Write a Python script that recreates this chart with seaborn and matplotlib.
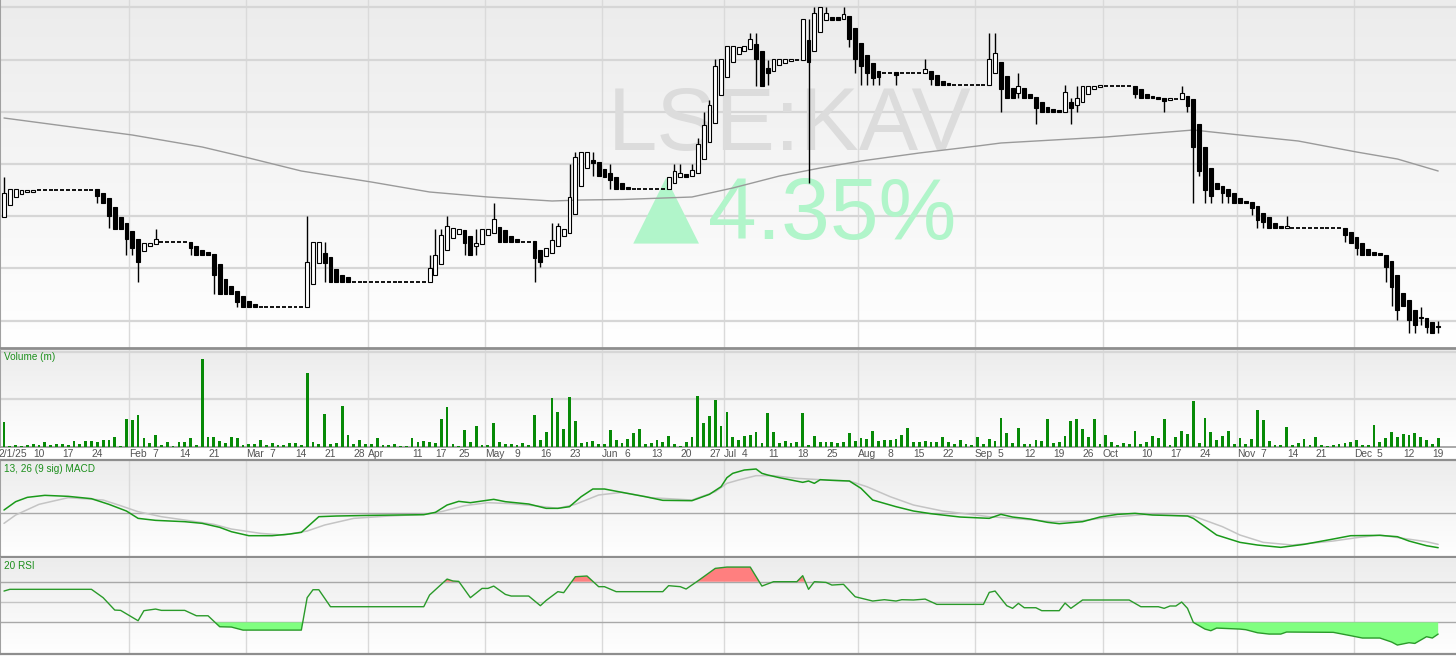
import numpy as np
import pandas as pd
import matplotlib
matplotlib.use("Agg")
import matplotlib.pyplot as plt
import matplotlib.transforms as mtransforms
from matplotlib.colors import LinearSegmentedColormap
import seaborn as sns

sns.set_style("white")
plt.rcParams["font.family"] = ["Liberation Sans", "DejaVu Sans"]

ticker = "LSE:KAV"
change_text = "4.35%"

# LSE trading days 2025 (2 Jan - 19 Dec)
uk_holidays = ["2025-04-18", "2025-04-21", "2025-05-05", "2025-05-26", "2025-08-25"]
days = pd.bdate_range("2025-01-02", "2025-12-19")
days = days[~days.isin(pd.to_datetime(uk_holidays))]

opens = [1.31, 1.43, 1.51, 1.54, 1.56, 1.56, 1.58, 1.58, 1.58, 1.58,
         1.58, 1.58, 1.58, 1.58, 1.58, 1.58, 1.59, 1.55, 1.50, 1.41,
         1.31, 1.25, 1.17, 1.09, 0.97, 1.02, 1.04, 1.06, 1.06, 1.06,
         1.06, 1.06, 1.06, 1.02, 0.98, 0.96, 0.94, 0.84, 0.69, 0.62,
         0.57, 0.52, 0.47, 0.44, 0.41, 0.41, 0.41, 0.41, 0.41, 0.41,
         0.41, 0.41, 0.41, 0.64, 0.85, 0.95, 0.91, 0.79, 0.73, 0.71,
         0.66, 0.66, 0.66, 0.66, 0.66, 0.66, 0.66, 0.66, 0.66, 0.66,
         0.66, 0.66, 0.66, 0.66, 0.73, 0.84, 0.98, 1.10, 1.14, 1.18,
         1.12, 1.02, 1.04, 1.13, 1.15, 1.21, 1.18, 1.12, 1.09, 1.06,
         1.06, 1.07, 0.98, 0.92, 0.95, 1.02, 1.12, 1.15, 1.34, 1.62,
         1.80, 1.88, 1.86, 1.79, 1.75, 1.71, 1.65, 1.61, 1.59, 1.59,
         1.59, 1.59, 1.59, 1.59, 1.59, 1.65, 1.71, 1.74, 1.72, 1.75,
         1.89, 2.06, 2.25, 2.53, 2.71, 2.86, 2.94, 2.97, 2.99, 3.04,
         2.97, 2.80, 2.77, 2.83, 2.85, 2.87, 2.88, 2.88, 3.08, 2.97,
         3.16, 3.28, 3.31, 3.31, 3.29, 3.32, 3.20, 3.05, 2.93, 2.85,
         2.77, 2.75, 2.75, 2.76, 2.75, 2.75, 2.75, 2.75, 2.75, 2.77,
         2.73, 2.67, 2.65, 2.63, 2.63, 2.63, 2.63, 2.63, 2.63, 2.63,
         2.75, 2.86, 2.72, 2.60, 2.55, 2.60, 2.54, 2.51, 2.46, 2.41,
         2.39, 2.38, 2.36, 2.46, 2.43, 2.46, 2.54, 2.59, 2.61, 2.62,
         2.62, 2.62, 2.62, 2.62, 2.62, 2.59, 2.54, 2.52, 2.51, 2.50,
         2.48, 2.49, 2.49, 2.52, 2.49, 2.24, 2.01, 1.80, 1.65, 1.62,
         1.59, 1.55, 1.50, 1.47, 1.46, 1.42, 1.35, 1.31, 1.25, 1.22,
         1.20, 1.20, 1.20, 1.20, 1.20, 1.20, 1.20, 1.20, 1.20, 1.20,
         1.20, 1.16, 1.11, 1.05, 0.99, 0.96, 0.95, 0.93, 0.87, 0.73,
         0.55, 0.48, 0.38, 0.31, 0.30, 0.26, 0.22]

highs = [1.71, 1.59, 1.59, 1.58, 1.58, 1.58, 1.58, 1.58, 1.58, 1.58,
         1.58, 1.58, 1.58, 1.58, 1.58, 1.58, 1.59, 1.55, 1.50, 1.41,
         1.31, 1.25, 1.17, 1.09, 1.05, 1.05, 1.19, 1.06, 1.06, 1.06,
         1.06, 1.06, 1.06, 1.02, 0.98, 0.96, 0.94, 0.84, 0.69, 0.62,
         0.57, 0.52, 0.47, 0.44, 0.41, 0.41, 0.41, 0.41, 0.41, 0.41,
         0.41, 0.41, 1.32, 1.06, 1.06, 1.06, 0.91, 0.79, 0.73, 0.71,
         0.66, 0.66, 0.66, 0.66, 0.66, 0.66, 0.66, 0.66, 0.66, 0.66,
         0.66, 0.66, 0.66, 0.93, 1.19, 1.19, 1.32, 1.20, 1.19, 1.18,
         1.12, 1.19, 1.19, 1.19, 1.45, 1.21, 1.18, 1.12, 1.09, 1.06,
         1.06, 1.07, 0.98, 1.00, 1.25, 1.25, 1.19, 1.84, 1.96, 1.96,
         1.96, 1.96, 1.86, 1.79, 1.84, 1.71, 1.65, 1.61, 1.59, 1.59,
         1.59, 1.59, 1.59, 1.59, 1.71, 1.84, 1.84, 1.74, 1.84, 2.10,
         2.36, 2.48, 2.89, 2.89, 3.02, 3.02, 3.01, 3.02, 3.15, 3.15,
         2.97, 2.88, 2.89, 2.89, 2.89, 2.89, 2.88, 3.29, 3.29, 3.41,
         3.41, 3.41, 3.31, 3.31, 3.41, 3.32, 3.20, 3.05, 2.93, 2.85,
         2.77, 2.75, 2.75, 2.76, 2.75, 2.75, 2.75, 2.75, 2.89, 2.77,
         2.73, 2.67, 2.65, 2.63, 2.63, 2.63, 2.63, 2.63, 2.63, 3.15,
         3.15, 2.86, 2.72, 2.60, 2.75, 2.60, 2.54, 2.51, 2.46, 2.41,
         2.39, 2.38, 2.63, 2.50, 2.62, 2.62, 2.62, 2.62, 2.63, 2.62,
         2.62, 2.62, 2.62, 2.62, 2.62, 2.59, 2.54, 2.52, 2.51, 2.50,
         2.50, 2.49, 2.62, 2.52, 2.49, 2.24, 2.01, 1.80, 1.65, 1.62,
         1.59, 1.55, 1.50, 1.47, 1.46, 1.42, 1.35, 1.31, 1.25, 1.22,
         1.32, 1.20, 1.20, 1.20, 1.20, 1.20, 1.20, 1.20, 1.20, 1.20,
         1.20, 1.16, 1.11, 1.05, 0.99, 0.96, 0.95, 0.93, 0.87, 0.73,
         0.55, 0.48, 0.38, 0.41, 0.30, 0.26, 0.27]

lows = [1.31, 1.43, 1.51, 1.54, 1.56, 1.56, 1.58, 1.58, 1.58, 1.58,
        1.58, 1.58, 1.58, 1.58, 1.58, 1.58, 1.45, 1.45, 1.20, 1.19,
        1.19, 0.93, 0.93, 0.66, 0.97, 1.02, 1.04, 1.06, 1.06, 1.06,
        1.06, 1.06, 0.93, 0.93, 0.93, 0.93, 0.54, 0.54, 0.54, 0.54,
        0.41, 0.41, 0.41, 0.41, 0.41, 0.41, 0.41, 0.41, 0.41, 0.41,
        0.41, 0.41, 0.41, 0.64, 0.85, 0.66, 0.66, 0.66, 0.66, 0.66,
        0.66, 0.66, 0.66, 0.66, 0.66, 0.66, 0.66, 0.66, 0.66, 0.66,
        0.66, 0.66, 0.66, 0.66, 0.73, 0.84, 0.98, 1.10, 1.14, 0.93,
        0.93, 0.93, 1.04, 1.13, 1.15, 1.06, 1.06, 1.06, 1.06, 1.06,
        1.06, 0.66, 0.81, 0.92, 0.95, 1.02, 1.12, 1.15, 1.34, 1.62,
        1.80, 1.72, 1.72, 1.71, 1.59, 1.59, 1.59, 1.59, 1.59, 1.59,
        1.59, 1.59, 1.59, 1.59, 1.59, 1.65, 1.71, 1.71, 1.72, 1.75,
        1.89, 2.06, 2.25, 2.53, 2.71, 2.86, 2.94, 2.97, 2.99, 2.62,
        2.62, 2.63, 2.77, 2.83, 2.85, 2.87, 2.88, 2.88, 1.65, 2.97,
        3.16, 3.28, 3.28, 3.28, 3.29, 3.01, 2.75, 2.63, 2.63, 2.63,
        2.63, 2.75, 2.75, 2.63, 2.75, 2.75, 2.75, 2.75, 2.75, 2.63,
        2.63, 2.63, 2.63, 2.63, 2.63, 2.63, 2.63, 2.63, 2.63, 2.63,
        2.75, 2.36, 2.50, 2.50, 2.50, 2.50, 2.50, 2.24, 2.36, 2.36,
        2.36, 2.36, 2.36, 2.24, 2.36, 2.46, 2.54, 2.59, 2.61, 2.62,
        2.62, 2.62, 2.62, 2.62, 2.50, 2.50, 2.50, 2.50, 2.49, 2.36,
        2.48, 2.49, 2.49, 2.36, 1.45, 1.72, 1.45, 1.45, 1.59, 1.45,
        1.45, 1.45, 1.45, 1.45, 1.33, 1.20, 1.20, 1.20, 1.20, 1.20,
        1.20, 1.20, 1.20, 1.20, 1.20, 1.20, 1.20, 1.20, 1.20, 1.20,
        1.06, 1.05, 0.93, 0.93, 0.93, 0.93, 0.93, 0.66, 0.42, 0.28,
        0.42, 0.15, 0.15, 0.23, 0.15, 0.15, 0.15]

closes = [1.55, 1.59, 1.59, 1.58, 1.58, 1.58, 1.58, 1.58, 1.58, 1.58,
          1.58, 1.58, 1.58, 1.58, 1.58, 1.58, 1.52, 1.45, 1.32, 1.19,
          1.19, 1.09, 1.00, 0.86, 1.05, 1.05, 1.09, 1.06, 1.06, 1.06,
          1.06, 1.06, 1.00, 0.93, 0.93, 0.93, 0.73, 0.54, 0.54, 0.54,
          0.46, 0.41, 0.41, 0.41, 0.41, 0.41, 0.41, 0.41, 0.41, 0.41,
          0.41, 0.41, 0.86, 1.06, 1.06, 0.85, 0.66, 0.66, 0.66, 0.66,
          0.66, 0.66, 0.66, 0.66, 0.66, 0.66, 0.66, 0.66, 0.66, 0.66,
          0.66, 0.66, 0.66, 0.80, 0.93, 1.13, 1.22, 1.20, 1.19, 1.05,
          0.93, 1.05, 1.19, 1.19, 1.29, 1.06, 1.06, 1.06, 1.06, 1.06,
          1.06, 0.90, 0.86, 1.00, 1.08, 1.22, 1.19, 1.51, 1.91, 1.96,
          1.96, 1.85, 1.72, 1.71, 1.68, 1.59, 1.59, 1.59, 1.59, 1.59,
          1.59, 1.59, 1.59, 1.59, 1.71, 1.77, 1.75, 1.71, 1.78, 2.04,
          2.23, 2.43, 2.82, 2.89, 3.02, 3.02, 3.01, 3.02, 3.09, 2.89,
          2.62, 2.75, 2.89, 2.89, 2.89, 2.89, 2.88, 3.29, 2.86, 3.35,
          3.41, 3.35, 3.28, 3.28, 3.34, 3.09, 2.89, 2.82, 2.75, 2.70,
          2.71, 2.75, 2.75, 2.73, 2.75, 2.75, 2.75, 2.75, 2.79, 2.69,
          2.63, 2.63, 2.63, 2.63, 2.63, 2.63, 2.63, 2.63, 2.63, 2.89,
          2.95, 2.59, 2.50, 2.50, 2.62, 2.50, 2.50, 2.40, 2.36, 2.36,
          2.36, 2.36, 2.56, 2.40, 2.50, 2.62, 2.62, 2.62, 2.63, 2.62,
          2.62, 2.62, 2.62, 2.62, 2.54, 2.50, 2.50, 2.50, 2.49, 2.47,
          2.50, 2.49, 2.55, 2.42, 2.01, 1.77, 1.58, 1.52, 1.59, 1.55,
          1.52, 1.45, 1.45, 1.45, 1.40, 1.28, 1.26, 1.20, 1.20, 1.20,
          1.22, 1.20, 1.20, 1.20, 1.20, 1.20, 1.20, 1.20, 1.20, 1.20,
          1.13, 1.05, 1.00, 0.93, 0.93, 0.93, 0.93, 0.81, 0.61, 0.38,
          0.42, 0.28, 0.23, 0.30, 0.21, 0.15, 0.21]

# volume (m)
volume = [7.5, 0.2, 0.4, 0.1, 0.4, 0.7, 0.5, 1.5, 0.4, 0.7,
          0.7, 0.5, 1.8, 0.7, 1.8, 1.6, 1.3, 2.0, 2.0, 3.0,
          0.1, 8.2, 7.9, 9.4, 2.5, 1.0, 3.5, 0.5, 1.3, 0.1,
          1.3, 1.3, 2.5, 0.5, 26.3, 3.0, 3.0, 1.8, 1.0, 2.8,
          2.5, 0.5, 0.7, 0.7, 2.0, 0.4, 1.0, 0.5, 0.5, 1.0,
          1.2, 0.5, 22.0, 1.5, 0.8, 9.8, 0.8, 1.0, 12.3, 3.5,
          0.7, 2.0, 0.8, 0.7, 2.5, 0.5, 0.4, 0.8, 0.1, 0.1,
          2.5, 1.3, 1.8, 1.3, 1.0, 8.2, 12.0, 0.7, 0.1, 4.9,
          1.3, 6.1, 0.5, 0.4, 7.2, 1.5, 0.7, 0.7, 0.5, 1.0,
          0.5, 9.5, 2.0, 4.3, 14.5, 10.5, 5.3, 14.8, 7.7, 1.0,
          1.5, 1.8, 0.7, 0.7, 4.9, 2.0, 1.0, 2.2, 4.1, 5.3,
          0.7, 1.0, 2.0, 1.3, 3.3, 0.7, 0.1, 1.3, 2.8, 15.3,
          7.2, 9.2, 14.0, 6.3, 10.3, 2.8, 2.0, 3.2, 3.5, 4.3,
          1.0, 10.2, 4.3, 1.0, 1.8, 1.0, 1.5, 10.2, 0.5, 3.3,
          1.3, 1.3, 1.3, 1.0, 1.5, 4.0, 1.8, 2.5, 2.3, 4.7,
          1.8, 2.0, 2.0, 2.3, 3.5, 5.5, 1.3, 1.3, 1.7, 1.3,
          1.3, 2.8, 1.5, 0.7, 2.0, 0.7, 0.5, 2.8, 0.7, 2.2,
          1.8, 8.7, 4.0, 1.0, 5.6, 0.9, 0.9, 2.0, 1.8, 8.4,
          1.0, 1.3, 3.3, 7.7, 8.2, 5.3, 3.0, 8.2, 0.7, 3.5,
          1.5, 0.4, 1.2, 0.7, 4.6, 0.8, 1.5, 3.3, 2.5, 8.4,
          0.5, 2.8, 4.6, 3.8, 13.7, 1.0, 8.7, 4.3, 2.0, 3.3,
          4.6, 0.8, 2.5, 0.7, 2.2, 10.9, 8.1, 1.8, 0.4, 0.4,
          5.8, 0.4, 1.0, 2.3, 0.4, 2.8, 0.5, 0.1, 0.4, 0.7,
          1.0, 1.5, 2.0, 0.4, 0.4, 6.4, 1.3, 2.5, 4.3, 2.8,
          3.8, 3.5, 4.0, 3.0, 2.0, 0.7, 2.5]

# 200 day moving average (read at trading-day positions)
ma_day = [0, 22, 34, 42, 51, 63, 73, 83, 94, 99, 106, 118, 125, 133, 140,
          147, 157, 167, 171, 189, 204, 212, 222, 232, 239, 246]
ma_val = [2.30, 2.13, 2.01, 1.90, 1.77, 1.66, 1.56, 1.51, 1.47, 1.48, 1.485,
          1.51, 1.60, 1.72, 1.80, 1.87, 1.95, 2.02, 2.05, 2.11, 2.18, 2.13,
          2.07, 1.96, 1.89, 1.77]

# MACD 13, 26 with 9 day signal
macd_day = [0, 2, 4, 7, 11, 15, 18, 21, 23, 26, 31, 34, 37, 39, 42, 46, 49,
            51, 54, 57, 63, 72, 74, 76, 78, 80, 84, 86, 90, 93, 95, 97, 99,
            101, 103, 106, 110, 113, 118, 121, 123, 124, 125, 127, 129, 130,
            131, 133, 137, 138, 139, 140, 142, 145, 147, 149, 153, 156, 159,
            164, 169, 171, 173, 176, 179, 181, 185, 188, 191, 194, 197, 203,
            204, 208, 212, 215, 219, 223, 228, 231, 236, 239, 241, 244, 246]
macd_val = [0.10, 0.35, 0.48, 0.54, 0.51, 0.44, 0.27, 0.07, -0.15, -0.21,
            -0.25, -0.30, -0.42, -0.55, -0.67, -0.67, -0.62, -0.57, -0.10,
            -0.08, -0.06, -0.04, 0.03, 0.25, 0.36, 0.32, 0.42, 0.35, 0.28,
            0.15, 0.15, 0.20, 0.50, 0.73, 0.73, 0.63, 0.50, 0.39, 0.38, 0.57,
            0.80, 1.07, 1.20, 1.30, 1.33, 1.20, 1.15, 1.07, 0.93, 0.97, 0.90,
            1.01, 0.99, 0.97, 0.75, 0.40, 0.20, 0.07, -0.01, -0.11, -0.15,
            -0.03, -0.11, -0.17, -0.27, -0.31, -0.25, -0.11, -0.03, 0.00,
            -0.05, -0.08, -0.15, -0.65, -0.87, -0.95, -1.02, -0.93, -0.77,
            -0.67, -0.66, -0.70, -0.83, -0.97, -1.03]
signal_day = [0, 2, 6, 11, 17, 20, 23, 27, 31, 36, 39, 44, 48, 52, 55, 60,
              66, 72, 75, 79, 83, 87, 91, 95, 98, 102, 106, 111, 118, 122,
              124, 126, 129, 132, 136, 140, 145, 148, 152, 156, 161, 169,
              173, 180, 185, 189, 196, 204, 209, 212, 216, 221, 228, 232,
              236, 240, 244, 246]
signal_val = [-0.30, -0.05, 0.27, 0.47, 0.40, 0.23, 0.05, -0.10, -0.20,
              -0.33, -0.47, -0.60, -0.65, -0.53, -0.35, -0.15, -0.08, -0.03,
              0.05, 0.23, 0.32, 0.29, 0.23, 0.15, 0.27, 0.55, 0.63, 0.47,
              0.40, 0.65, 0.90, 1.00, 1.13, 1.13, 1.05, 1.01, 0.97, 0.80,
              0.50, 0.25, 0.07, -0.10, -0.15, -0.25, -0.22, -0.13, -0.03,
              -0.08, -0.40, -0.65, -0.87, -0.95, -0.83, -0.73, -0.65, -0.75,
              -0.85, -0.93]

# 20 day RSI
rsi_day = [0, 1, 15, 17, 19, 20, 23, 24, 26, 27, 31, 33, 35, 37, 39, 41, 51,
           52, 53, 54, 56, 72, 73, 76, 77, 78, 80, 82, 83, 84, 86, 87, 90, 92,
           93, 95, 96, 98, 100, 102, 103, 105, 113, 114, 116, 117, 119, 122,
           124, 128, 130, 132, 136, 137, 138, 139, 141, 142, 144, 146, 149,
           151, 153, 154, 156, 158, 160, 168, 169, 170, 172, 173, 174, 175,
           177, 178, 181, 182, 183, 185, 193, 195, 198, 199, 200, 201, 202,
           203, 204, 206, 207, 208, 212, 213, 215, 217, 219, 220, 228, 231,
           233, 236, 238, 239, 241, 242, 244, 245, 246]
rsi_val = [60.8, 62.5, 62.5, 54.3, 42.1, 41.8, 31.6, 41.5, 43.1, 41.8, 41.8,
           36.5, 36.5, 25.7, 25.4, 22.4, 22.4, 54.3, 62.1, 62.1, 45.4, 45.4,
           56.9, 72.6, 70.7, 70.3, 54.3, 63.4, 63.4, 65.7, 57.5, 55.9, 55.9,
           46.4, 51.6, 60.2, 59.2, 74.9, 75.6, 65.1, 65.1, 60.2, 60.2, 66.1,
           65.1, 62.8, 70.7, 83.1, 84.4, 84.4, 65.7, 70.0, 70.0, 75.9, 62.5,
           70.0, 69.3, 66.7, 67.4, 55.2, 51.0, 52.3, 51.0, 52.3, 52.0, 52.9,
           47.7, 47.7, 59.5, 60.8, 46.4, 43.8, 48.7, 44.4, 44.4, 41.5, 41.5,
           49.0, 43.8, 52.0, 52.0, 45.4, 45.4, 43.8, 46.1, 46.1, 50.0, 43.8,
           30.0, 23.4, 21.8, 24.4, 23.4, 22.8, 19.8, 18.5, 18.5, 20.5, 20.2,
           16.9, 14.6, 14.6, 10.7, 7.7, 10.0, 9.3, 15.9, 14.6, 18.5]

# x axis labels
month_starts = ["2025-02-03", "2025-03-03", "2025-04-01", "2025-05-01", "2025-06-02",
                "2025-07-01", "2025-08-01", "2025-09-01", "2025-10-01", "2025-11-03",
                "2025-12-01"]
month_names = ["Feb", "Mar", "Apr", "May", "Jun", "Jul", "Aug", "Sep", "Oct", "Nov", "Dec"]
week_dates = ["2025-01-10", "2025-01-17", "2025-01-24", "2025-02-07", "2025-02-14",
              "2025-02-21", "2025-03-07", "2025-03-14", "2025-03-21", "2025-03-28",
              "2025-04-11", "2025-04-17", "2025-04-25", "2025-05-09", "2025-05-16",
              "2025-05-23", "2025-06-06", "2025-06-13", "2025-06-20", "2025-06-27",
              "2025-07-04", "2025-07-11", "2025-07-18", "2025-07-25", "2025-08-08",
              "2025-08-15", "2025-08-22", "2025-09-05", "2025-09-12", "2025-09-19",
              "2025-09-26", "2025-10-10", "2025-10-17", "2025-10-24", "2025-11-07",
              "2025-11-14", "2025-11-21", "2025-12-05", "2025-12-12", "2025-12-19"]

# ---------------------------------------------------------------------------
pos = np.arange(len(days))
o, h, l, c = map(np.array, (opens, highs, lows, closes))
month_pos = days.get_indexer(pd.to_datetime(month_starts))
week_pos = days.get_indexer(pd.to_datetime(week_dates))

W, H = 1456, 656
fig = plt.figure(figsize=(W / 100, H / 100), dpi=100)


def panel(top, bottom):
    return fig.add_axes([0, 1 - bottom / H, 1, (bottom - top) / H])


ax_p = panel(0, 348)
ax_v = panel(350, 446.7)
ax_m = panel(460, 556.7)
ax_r = panel(557.7, 654)

bg = LinearSegmentedColormap.from_list("bg", ["#ececec", "#ffffff"])
grad = np.linspace(0, 1, 256).reshape(-1, 1)
grid_c = "#d6d6d6"
edge_c = "#8e8e8e"
label_green = "#1c8f1c"
xlim = (-4 / 5.83, (W - 4) / 5.83)

for ax in (ax_p, ax_v, ax_m, ax_r):
    ax.imshow(grad, cmap=bg, extent=[0, 1, 0, 1], transform=ax.transAxes,
              aspect="auto", zorder=0)
    for mp in month_pos:
        ax.axvline(mp - 0.5, color="#dadada", lw=1.0, zorder=1)
    ax.set_xticks([])
    ax.set_yticks([])
    for s in ax.spines.values():
        s.set_visible(False)
    ax.spines["left"].set_visible(True)
    ax.spines["left"].set_color("#a0a0a0")
    ax.spines["left"].set_linewidth(1.5)

# ---- price panel
for g in np.arange(0.275, 3.45, 0.522):
    ax_p.axhline(g, color=grid_c, lw=1.6, zorder=1)

ax_p.text(608 / W, 1 - 150 / 348, ticker, transform=ax_p.transAxes,
          fontsize=64, color="#dcdcdc", ha="left", va="baseline", zorder=1.5)
ax_p.text(666 / W, 1 - 232 / 348, "\u25B2", transform=ax_p.transAxes,
          fontsize=62, color="#b1f5ca", ha="center", va="baseline", zorder=1.5,
          family=["DejaVu Sans"])
ax_p.text(708 / W, 1 - 238.5 / 348, change_text, transform=ax_p.transAxes,
          fontsize=63, color="#b1f5ca", ha="left", va="baseline", zorder=1.5)

sns.lineplot(x=ma_day, y=ma_val, color="#9a9a9a", lw=1.0, ax=ax_p, zorder=2)

up = c >= o
lo_b = np.minimum(o, c)
hi_b = np.maximum(o, c)
flat = (hi_b - lo_b) < 0.005
ax_p.vlines(pos, l, h, color="black", lw=1.0, zorder=3)
ax_p.bar(pos[~flat], (hi_b - lo_b)[~flat], bottom=lo_b[~flat], width=0.66,
         color=np.where(up, "white", "black")[~flat], edgecolor="black",
         linewidth=0.8, zorder=4)
ax_p.hlines(c[flat], pos[flat] - 0.34, pos[flat] + 0.34, color="black",
            lw=1.3, zorder=4)
ax_p.set_ylim(0, 3.48)
ax_p.spines["bottom"].set_visible(True)
ax_p.spines["bottom"].set_color(edge_c)
ax_p.spines["bottom"].set_linewidth(2.0)

# ---- volume panel
for g in (14.2, 28.4):
    ax_v.axhline(g, color=grid_c, lw=1.6, zorder=1)
sns.barplot(x=pos, y=volume, native_scale=True, width=0.48, color="#078a07",
            saturation=1, errorbar=None, linewidth=0, ax=ax_v, zorder=3)
ax_v.set_ylim(0, 29.0)
ax_v.spines["bottom"].set_visible(True)
ax_v.spines["bottom"].set_color("#9a9a9a")
ax_v.spines["bottom"].set_linewidth(1.2)
ax_v.text(0.003, 1 - 7 / 96.7, "Volume (m)", transform=ax_v.transAxes,
          fontsize=7.2, color=label_green, ha="left", va="center", zorder=5)

tr = mtransforms.blended_transform_factory(ax_v.transData, ax_v.transAxes)
tick_kw = dict(transform=tr, fontsize=7.4, color="#555555", va="center",
               clip_on=False)
ax_v.text(-1.0, -0.072, days[0].strftime("%-d/%-m/%y"), ha="left", **tick_kw)
for mp, name in zip(month_pos, month_names):
    ax_v.text(mp - 0.5, -0.072, name, ha="left", **tick_kw)
for wp, d in zip(week_pos, week_dates):
    ax_v.text(wp, -0.072, str(pd.Timestamp(d).day), ha="center", **tick_kw)

# ---- MACD panel
ax_m.axhline(0, color="#a8a8a8", lw=1.0, zorder=1)
sns.lineplot(x=signal_day, y=signal_val, color="#c4c4c4", lw=1.1, ax=ax_m, zorder=2)
sns.lineplot(x=macd_day, y=macd_val, color="#1a9a1a", lw=1.1, ax=ax_m, zorder=3)
ax_m.set_ylim(-1.30, 1.60)
for side in ("top", "bottom"):
    ax_m.spines[side].set_visible(True)
    ax_m.spines[side].set_color(edge_c)
    ax_m.spines[side].set_linewidth(1.6)
ax_m.text(0.003, 1 - 9 / 96.7, "13, 26 (9 sig) MACD", transform=ax_m.transAxes,
          fontsize=7.2, color=label_green, ha="left", va="center", zorder=5)

# ---- RSI panel
for lvl, col in ((70, "#a8a8a8"), (50, "#c4c4c4"), (30, "#a8a8a8")):
    ax_r.axhline(lvl, color=col, lw=1.0, zorder=1)
rx = np.array(rsi_day, dtype=float)
ry = np.array(rsi_val)
ax_r.fill_between(rx, ry, 70, where=ry > 70, interpolate=True, color="#ff7f7f",
                  lw=0, zorder=2)
ax_r.fill_between(rx, ry, 30, where=ry < 30, interpolate=True, color="#80ff80",
                  lw=0, zorder=2)
sns.lineplot(x=rsi_day, y=rsi_val, color="#2a9a2a", lw=1.0, ax=ax_r, zorder=3)
ax_r.set_ylim(-1.1, 93.6)
ax_r.spines["bottom"].set_visible(True)
ax_r.spines["bottom"].set_color(edge_c)
ax_r.spines["bottom"].set_linewidth(1.6)
ax_r.text(0.003, 1 - 8.3 / 96.3, "20 RSI", transform=ax_r.transAxes,
          fontsize=7.2, color=label_green, ha="left", va="center", zorder=5)

for ax in (ax_p, ax_v, ax_m, ax_r):
    ax.set_xlim(*xlim)
    ax.set_xlabel("")
    ax.set_ylabel("")
    ax.set_xticks([])
    ax.set_yticks([])
    if ax.get_legend() is not None:
        ax.get_legend().remove()

fig.savefig("out.png", dpi=100)
